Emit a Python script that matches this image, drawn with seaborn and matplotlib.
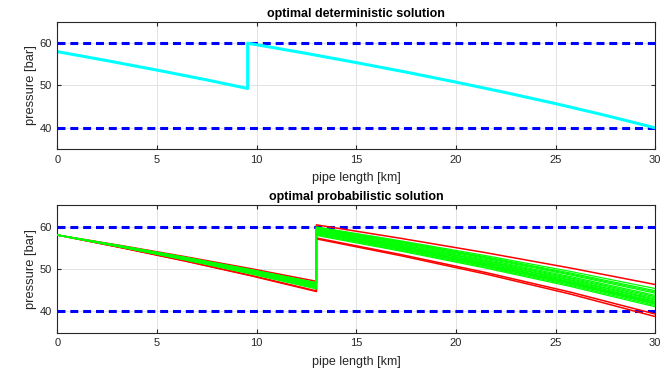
import numpy as np
import pandas as pd
import matplotlib
matplotlib.use("Agg")
import matplotlib.pyplot as plt
import seaborn as sns

# ---- deterministic solution: pressure profile along the pipe ----
det_km = [0, 2.5, 5, 7.5, 9.55, 9.55, 12.5, 15, 17.5, 20, 22.5, 25, 27.5, 30]
det_bar = [58.0, 55.86, 53.64, 51.32, 49.3, 60.0, 57.58, 55.41, 53.16, 50.80, 48.32, 45.72, 42.95, 40.0]

# ---- probabilistic solution: one profile per demand scenario ----
# positions (km) where each profile is given; the station at 13 km appears twice
node_km = [0, 3.25, 6.5, 9.75, 13.0, 13.0, 17.25, 21.5, 25.75, 30]
inlet_bar = 58.0

# feasible scenarios (pressure in bar at each node after the inlet)
green_p03 = [55.41, 55.39, 55.37, 55.33, 55.31, 55.29, 55.27, 55.25,
             55.22, 55.20, 55.18, 55.16, 55.14, 55.10, 55.35, 55.22]
green_p07 = [52.70, 52.65, 52.61, 52.52, 52.48, 52.43, 52.39, 52.35,
             52.30, 52.26, 52.21, 52.17, 52.13, 52.04, 52.57, 52.30]
green_p10 = [49.84, 49.77, 49.70, 49.56, 49.49, 49.41, 49.34, 49.27,
             49.20, 49.13, 49.06, 49.00, 48.93, 48.79, 49.63, 49.20]
green_p13_in = [46.8, 46.7, 46.6, 46.4, 46.3, 46.2, 46.1, 46.0,
                45.9, 45.8, 45.7, 45.6, 45.5, 45.3, 46.5, 45.9]
green_p13_out = [59.9, 59.8, 59.6, 59.5, 59.3, 59.2, 59.0, 58.9,
                 58.7, 58.6, 58.4, 58.3, 58.1, 57.9, 59.7, 58.8]
green_p17 = [56.62, 56.44, 56.17, 55.99, 55.77, 55.63, 55.42, 55.30,
             55.08, 54.96, 54.74, 54.62, 54.41, 54.19, 56.31, 55.08]
green_p22 = [53.15, 52.88, 52.51, 52.24, 52.00, 51.82, 51.58, 51.44,
             51.20, 51.06, 50.82, 50.68, 50.45, 50.21, 52.69, 51.09]
green_p26 = [49.43, 49.05, 48.58, 48.21, 47.94, 47.71, 47.44, 47.27,
             47.01, 46.84, 46.58, 46.41, 46.15, 45.88, 48.82, 46.77]
green_p30 = [45.4, 44.9, 44.3, 43.8, 43.5, 43.2, 42.9, 42.7,
             42.4, 42.2, 41.9, 41.7, 41.4, 41.1, 44.6, 42.0]

# scenarios violating the pressure bounds
red_p03 = [55.48, 55.01, 54.98]
red_p07 = [52.83, 51.84, 51.78]
red_p10 = [50.05, 48.47, 48.37]
red_p13_in = [47.1, 44.85, 44.7]
red_p13_out = [60.4, 57.3, 57.1]
red_p17 = [57.21, 53.39, 53.12]
red_p22 = [53.84, 49.17, 48.81]
red_p26 = [50.23, 44.55, 44.09]
red_p30 = [46.35, 39.4, 38.8]

p_min, p_max = 40, 60


def profiles(kind, *nodes):
    rows = []
    for i in range(len(nodes[0])):
        vals = [inlet_bar] + [n[i] for n in nodes]
        for order, (x, p) in enumerate(zip(node_km, vals)):
            rows.append({"scenario": f"{kind}{i}", "kind": kind,
                         "order": order, "km": x, "bar": p})
    return rows


prob = pd.DataFrame(
    profiles("violating", red_p03, red_p07, red_p10, red_p13_in, red_p13_out,
             red_p17, red_p22, red_p26, red_p30)
    + profiles("feasible", green_p03, green_p07, green_p10, green_p13_in, green_p13_out,
               green_p17, green_p22, green_p26, green_p30)
)
det = pd.DataFrame({"km": det_km, "bar": det_bar})

sns.set_theme(style="white")
plt.rcParams["font.family"] = ["Liberation Sans", "DejaVu Sans"]
plt.rcParams["axes.edgecolor"] = "#262626"
plt.rcParams["axes.linewidth"] = 0.8

fig = plt.figure(figsize=(6.72, 3.71), dpi=100)
ax1 = fig.add_axes([0.0853, 0.5984, 0.8897, 0.3423])
ax2 = fig.add_axes([0.0853, 0.1032, 0.8897, 0.3434])

dash_style = dict(color=(0, 0, 1), lw=2.2, dashes=(2.6, 1.6), zorder=1)


def style_axes(ax, title):
    ax.set_xlim(0, 30)
    ax.set_ylim(35, 65)
    ax.set_xticks([0, 5, 10, 15, 20, 25, 30])
    ax.set_yticks([40, 50, 60])
    ax.grid(True, color="#e3e3e3", lw=0.7)
    ax.set_axisbelow(True)
    ax.tick_params(direction="in", length=3, width=0.8, colors="#262626",
                   labelsize=8, top=True, right=True, bottom=True, left=True, pad=4)
    ax.set_xlabel("pipe length [km]", fontsize=9, color="#262626", labelpad=5.5)
    ax.set_ylabel("pressure [bar]", fontsize=9.3, color="#262626", labelpad=2)
    ax.set_title(title, fontsize=9, fontweight="bold", color="black", pad=3.5)
    for s in ax.spines.values():
        s.set_visible(True)


# top panel
ax1.plot([0, 30], [p_max, p_max], **dash_style)
ax1.plot([0, 30], [p_min, p_min], **dash_style)
sns.lineplot(data=det, x="km", y="bar", sort=False, estimator=None,
             color=(0, 1, 1), lw=2.2, ax=ax1, zorder=2)
style_axes(ax1, "optimal deterministic solution")

# bottom panel
ax2.plot([0, 30], [p_max, p_max], **dash_style)
ax2.plot([0, 30], [p_min, p_min], **dash_style)
sns.lineplot(data=prob[prob.kind == "violating"], x="km", y="bar", units="scenario",
             sort=False, estimator=None, color=(1, 0, 0), lw=1.1, ax=ax2, zorder=2)
sns.lineplot(data=prob[prob.kind == "feasible"], x="km", y="bar", units="scenario",
             sort=False, estimator=None, color=(0, 1, 0), lw=0.9, ax=ax2, zorder=3)
style_axes(ax2, "optimal probabilistic solution")

fig.savefig("out.png", dpi=100, facecolor="white")
